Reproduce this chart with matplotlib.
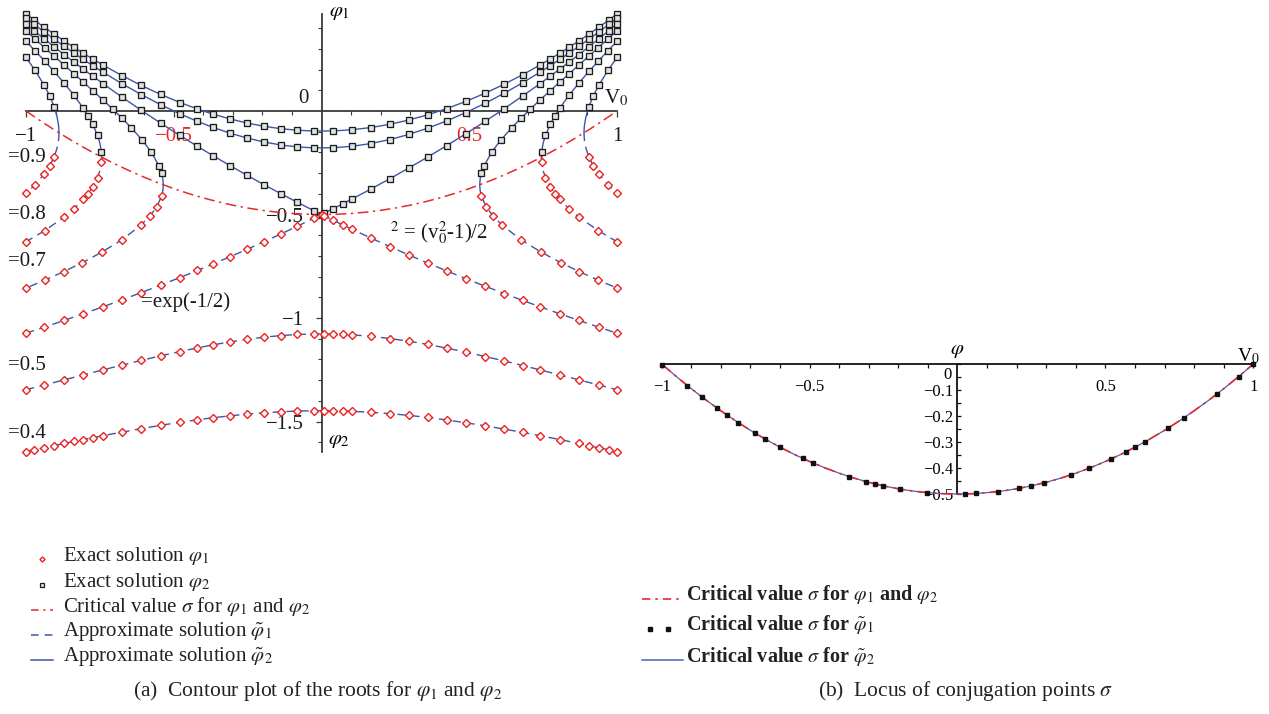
import matplotlib
matplotlib.use("Agg")
import matplotlib.pyplot as plt
from matplotlib.lines import Line2D
from matplotlib.ticker import FixedLocator

plt.rcParams["font.family"] = ["Liberation Serif", "DejaVu Serif"]
plt.rcParams["mathtext.fontset"] = "stix"

W, H, DPI = 1269, 714, 100
BLUE = "#3a57a8"
RED = "#e8282e"
AXIS = "#3a3a3a"

# ---------------------------------------------------------------------------
# v0 sample positions of the plotted roots
V_L = [-1.0, -0.972, -0.938, -0.905, -0.871, -0.838, -0.806, -0.774, -0.740, -0.675, -0.610,
       -0.544, -0.479, -0.420, -0.366, -0.310, -0.253, -0.195, -0.138, -0.082, -0.025]
V_L_SPARSE = [-1.0, -0.938, -0.871, -0.806, -0.740, -0.675, -0.610, -0.544, -0.479, -0.420,
              -0.366, -0.310, -0.253, -0.195, -0.138, -0.082, -0.025]
V_R = [0.040, 0.103, 0.166, 0.232, 0.295, 0.360, 0.424, 0.489, 0.554, 0.618, 0.681,
       0.740, 0.774, 0.806, 0.838, 0.871, 0.905, 0.938, 0.972, 1.0]
V_R_DENSE = [0.008, 0.040, 0.072, 0.103, 0.166, 0.232, 0.295, 0.360, 0.424, 0.489, 0.554,
             0.618, 0.681, 0.740, 0.774, 0.806, 0.838, 0.871, 0.905, 0.938, 0.972, 1.0]
V_R_04LO = [0.008, 0.040, 0.072, 0.103, 0.166, 0.232, 0.295, 0.360, 0.424, 0.489, 0.554,
            0.618, 0.681, 0.740, 0.806, 0.871, 0.905, 0.938, 0.972, 1.0]
V_R_SPARSE = [0.008, 0.040, 0.072, 0.103, 0.166, 0.232, 0.295, 0.360, 0.424, 0.489, 0.554,
              0.618, 0.681, 0.740, 0.806, 0.871, 0.938, 1.0]

# level 0.4
P04_UP_L = [0.4687, 0.4392, 0.4043, 0.3715, 0.3387, 0.3079, 0.2790, 0.2511, 0.2225, 0.1710, 0.1236,
            0.0798, 0.0410, 0.0098, -0.0156, -0.0383, -0.0578, -0.0737, -0.0854, -0.0930, -0.0968]
P04_UP_R = [-0.0962, -0.0906, -0.0801, -0.0641, -0.0438, -0.0182, 0.0117, 0.0467, 0.0861, 0.1292,
            0.1756, 0.2225, 0.2511, 0.2790, 0.3079, 0.3387, 0.3715, 0.4043, 0.4392, 0.4687]
P04_LO_L = [-1.6460, -1.6363, -1.6271, -1.6170, -1.6060, -1.5961, -1.5871, -1.5782, -1.5686, -1.5512,
            -1.5344, -1.5184, -1.5038, -1.4918, -1.4815, -1.4727, -1.4645, -1.4581, -1.4531, -1.4496,
            -1.4481]
P04_LO_R = [-1.4479, -1.4484, -1.4494, -1.4509, -1.4554, -1.4621, -1.4703, -1.4805, -1.4926, -1.5061,
            -1.5209, -1.5365, -1.5527, -1.5686, -1.5871, -1.6060, -1.6170, -1.6271, -1.6363, -1.6460]

# level 0.5
P05_UP_L = [0.4491, 0.4183, 0.3816, 0.3471, 0.3124, 0.2797, 0.2488, 0.2189, 0.1880, 0.1318, 0.0794,
            0.0303, -0.0139, -0.0500, -0.0797, -0.1068, -0.1302, -0.1496, -0.1641, -0.1735, -0.1782]
P05_UP_R = [-0.1775, -0.1706, -0.1575, -0.1378, -0.1134, -0.0827, -0.0477, -0.0074, 0.0375, 0.0856,
            0.1368, 0.1880, 0.2189, 0.2488, 0.2797, 0.3124, 0.3471, 0.3816, 0.4183, 0.4491]
P05_LO_L = [-1.3464, -1.3236, -1.2988, -1.2746, -1.2508, -1.2274, -1.2048, -1.1828, -1.1620, -1.1444,
            -1.1294, -1.1156, -1.1032, -1.0928, -1.0848, -1.0796, -1.0770]
P05_LO_R = [-1.0768, -1.0774, -1.0790, -1.0813, -1.0883, -1.0992, -1.1121, -1.1279, -1.1455, -1.1651,
            -1.1860, -1.2074, -1.2296, -1.2508, -1.2746, -1.2988, -1.3236, -1.3464]

# level exp(-1/2): both branches meet at the crossing point
V_X, P_X = 0.0, -0.5
PE_UP_L = [0.4207, 0.3877, 0.3482, 0.3107, 0.2727, 0.2364, 0.2020, 0.1681, 0.1327, 0.0669, 0.0033,
           -0.0590, -0.1183, -0.1704, -0.2168, -0.2635, -0.3098, -0.3555, -0.3992, -0.4409, -0.4822]
PE_UP_R = [-0.4943, -0.4715, -0.4482, -0.4254, -0.3778, -0.3265, -0.2758, -0.2219, -0.1670, -0.1094,
           -0.0498, 0.0110, 0.0729, 0.1327, 0.1681, 0.2020, 0.2364, 0.2727, 0.3107, 0.3482, 0.3877,
           0.4207]
PE_LO_L = [-1.0735, -1.0441, -1.0117, -0.9794, -0.9461, -0.9121, -0.8773, -0.8410, -0.8044, -0.7703,
           -0.7383, -0.7043, -0.6688, -0.6318, -0.5945, -0.5569, -0.5176]
PE_LO_R = [-0.5056, -0.5280, -0.5500, -0.5711, -0.6130, -0.6555, -0.6951, -0.7347, -0.7727, -0.8101,
           -0.8466, -0.8817, -0.9152, -0.9461, -0.9794, -1.0117, -1.0441, -1.0735]

# closed levels 0.7, 0.8, 0.9 (|v0| samples, same on both sides)
V07_UP = [0.541, 0.550, 0.577, 0.606, 0.644, 0.676, 0.706, 0.740, 0.774, 0.806, 0.838, 0.871,
          0.905, 0.937, 0.970, 1.0]
P07_UP = [-0.3008, -0.2649, -0.1964, -0.1417, -0.0804, -0.0335, 0.0082, 0.0538, 0.0982, 0.1394,
          0.1803, 0.2222, 0.2654, 0.3061, 0.3484, 0.3870]
V07_LO = [0.541, 0.557, 0.580, 0.612, 0.676, 0.744, 0.810, 0.872, 0.937, 1.0]
P07_LO = [-0.4105, -0.4616, -0.5065, -0.5525, -0.6227, -0.6824, -0.7328, -0.7757, -0.8174, -0.8553]
V07_UP_BEND, P07_UP_BEND = [0.537], [-0.3271]
V07_LO_BEND, P07_LO_BEND = [0.537], [-0.3857]
V07_TURN, P07_TURN = 0.5354, -0.3567

V08_UP = [0.745, 0.758, 0.774, 0.790, 0.806, 0.838, 0.871, 0.905, 0.937, 0.970, 1.0]
P08_UP = [-0.1973, -0.1174, -0.0646, -0.0230, 0.0130, 0.0765, 0.1350, 0.1912, 0.2416, 0.2920, 0.3368]
V08_LO = [0.745, 0.758, 0.774, 0.790, 0.806, 0.838, 0.871, 0.937, 1.0]
P08_LO = [-0.2485, -0.3219, -0.3665, -0.3997, -0.4272, -0.4730, -0.5124, -0.5783, -0.6316]
V08_UP_BEND, P08_UP_BEND = [0.750], [-0.1554]
V08_LO_BEND, P08_LO_BEND = [0.750], [-0.2880]
V08_TURN, P08_TURN = 0.7441, -0.2231

V09_UP = [0.905, 0.920, 0.938, 0.970, 1.0]
P09_UP = [0.0217, 0.0737, 0.1237, 0.1977, 0.2585]
V09_LO = [0.905, 0.920, 0.938, 0.970, 1.0]
P09_LO = [-0.2225, -0.2654, -0.3041, -0.3576, -0.3983]
V09_UP_BEND, P09_UP_BEND = [0.889, 0.890, 0.895], [-0.0824, -0.0674, -0.0270]
V09_LO_BEND, P09_LO_BEND = [0.889, 0.890, 0.895], [-0.1280, -0.1424, -0.1798]
V09_TURN, P09_TURN = 0.8884, -0.1054

# critical value sigma(v0)
V_SIGMA = [-1.0, -0.95, -0.9, -0.85, -0.8, -0.75, -0.7, -0.65, -0.6, -0.55, -0.5, -0.45, -0.4, -0.35,
           -0.3, -0.25, -0.2, -0.15, -0.1, -0.05, 0.0, 0.05, 0.1, 0.15, 0.2, 0.25, 0.3, 0.35, 0.4,
           0.45, 0.5, 0.55, 0.6, 0.65, 0.7, 0.75, 0.8, 0.85, 0.9, 0.95, 1.0]
P_SIGMA = [0.0, -0.04875, -0.095, -0.13875, -0.18, -0.21875, -0.255, -0.28875, -0.32, -0.34875,
           -0.375, -0.39875, -0.42, -0.43875, -0.455, -0.46875, -0.48, -0.48875, -0.495, -0.49875,
           -0.5, -0.49875, -0.495, -0.48875, -0.48, -0.46875, -0.455, -0.43875, -0.42, -0.39875,
           -0.375, -0.34875, -0.32, -0.28875, -0.255, -0.21875, -0.18, -0.13875, -0.095, -0.04875,
           0.0]

# conjugation points of the approximate solution (panel b)
V_CONJ = [-0.998, -0.913, -0.863, -0.814, -0.780, -0.741, -0.685, -0.651, -0.601, -0.523, -0.488,
          -0.367, -0.309, -0.280, -0.251, -0.195, -0.102, 0.027, 0.064, 0.136, 0.207, 0.249, 0.294,
          0.384, 0.446, 0.519, 0.568, 0.599, 0.635, 0.710, 0.765, 0.877, 0.950, 1.0]
P_CONJ = [-0.0020, -0.0832, -0.1276, -0.1687, -0.1958, -0.2255, -0.2654, -0.2881, -0.3194, -0.3632,
          -0.3809, -0.4327, -0.4523, -0.4608, -0.4685, -0.4810, -0.4948, -0.4996, -0.4980, -0.4908,
          -0.4786, -0.4690, -0.4568, -0.4263, -0.4005, -0.3653, -0.3387, -0.3206, -0.2984, -0.2480,
          -0.2074, -0.1154, -0.0488, 0.0]

# ---------------------------------------------------------------------------
fig = plt.figure(figsize=(W / DPI, H / DPI), dpi=DPI)
fig.patch.set_facecolor("white")


def fpos(x, y):
    """pixel position (from top-left) -> figure fraction"""
    return x / W, 1 - y / H


def ftext(x, y, s, **kw):
    fx, fy = fpos(x, y)
    fig.text(fx, fy, s, **kw)


SQ = dict(ls="none", marker="s", ms=4.2, mfc="#e2e2e2", mec="#1c1c1c", mew=0.95, zorder=5)
DI = dict(ls="none", marker="D", ms=4.0, mfc="white", mec="#ee2020", mew=1.0, zorder=5)
SOLID = dict(color=BLUE, lw=1.0, zorder=3)
DASHED = dict(color=BLUE, lw=1.0, dashes=(6, 4), zorder=3)

# ------------------------------ panel (a) ----------------------------------
ax = fig.add_axes([0.008846, 0.357479, 0.489007, 0.640714])
ax.set_xlim(-1.05, 1.05)
ax.set_ylim(-1.68, 0.53)
ax.patch.set_visible(False)

# critical curve
ax.plot(V_SIGMA, P_SIGMA, color=RED, lw=1.1, dashes=(7, 3, 1.5, 3), zorder=4)

# open levels
for vx, py, style, mk in [
    (V_L + V_R, P04_UP_L + P04_UP_R, SOLID, SQ),
    (V_L + V_R_04LO, P04_LO_L + P04_LO_R, DASHED, DI),
    (V_L + V_R, P05_UP_L + P05_UP_R, SOLID, SQ),
    (V_L_SPARSE + V_R_SPARSE, P05_LO_L + P05_LO_R, DASHED, DI),
    (V_L + [V_X] + V_R_DENSE, PE_UP_L + [P_X] + PE_UP_R, SOLID, SQ),
    (V_L_SPARSE + [V_X] + V_R_SPARSE, PE_LO_L + [P_X] + PE_LO_R, DASHED, DI),
]:
    ax.plot(vx, py, **style)
    ax.plot(vx, py, **mk)

# closed levels: upper branch solid, lower branch dashed, joined at the turning point
for (vu, pu, vub, pub, vt, pt, vl, pl, vlb, plb) in [
    (V07_UP, P07_UP, V07_UP_BEND, P07_UP_BEND, V07_TURN, P07_TURN, V07_LO, P07_LO, V07_LO_BEND, P07_LO_BEND),
    (V08_UP, P08_UP, V08_UP_BEND, P08_UP_BEND, V08_TURN, P08_TURN, V08_LO, P08_LO, V08_LO_BEND, P08_LO_BEND),
    (V09_UP, P09_UP, V09_UP_BEND, P09_UP_BEND, V09_TURN, P09_TURN, V09_LO, P09_LO, V09_LO_BEND, P09_LO_BEND),
]:
    up = sorted(zip(vu + vub, pu + pub))
    lo = sorted(zip(vl + vlb, pl + plb))
    for sgn in (1, -1):
        ux = [sgn * vt] + [sgn * a for a, _ in up]
        uy = [pt] + [b for _, b in up]
        lx = [sgn * vt] + [sgn * a for a, _ in lo]
        ly = [pt] + [b for _, b in lo]
        ax.plot(ux, uy, **SOLID)
        ax.plot(lx, ly, **DASHED)
        ax.plot([sgn * a for a in vu], pu, **SQ)
        ax.plot([sgn * a for a in vl], pl, **DI)

for s in ("top", "right"):
    ax.spines[s].set_visible(False)
ax.spines["left"].set_position(("data", 0))
ax.spines["bottom"].set_position(("data", 0))
ax.spines["left"].set_bounds(-1.646, 0.4687)
ax.spines["bottom"].set_bounds(-1, 1)
for s in ("left", "bottom"):
    ax.spines[s].set_color(AXIS)
    ax.spines[s].set_linewidth(1.3)
    ax.spines[s].set_zorder(2)

ax.xaxis.set_major_locator(FixedLocator([-1, -0.5, 0.5, 1]))
ax.set_xticklabels(["\u22121", "\u22120.5", "0.5", "1"])
ax.xaxis.set_minor_locator(FixedLocator([-0.9, -0.8, -0.7, -0.6, -0.4, -0.3, -0.2, -0.1,
                                         0.1, 0.2, 0.3, 0.4, 0.6, 0.7, 0.8, 0.9]))
ax.yaxis.set_major_locator(FixedLocator([-1.5, -1.0, -0.5]))
ax.set_yticklabels(["\u22121.5", "\u22121", "\u22120.5"])
ax.yaxis.set_minor_locator(FixedLocator([-1.6, -1.4, -1.3, -1.2, -1.1, -0.9, -0.8, -0.7, -0.6,
                                         -0.4, -0.3, -0.2, -0.1, 0.1, 0.2, 0.3, 0.4]))
ax.tick_params(axis="both", which="major", direction="out", length=4.5, width=0.9,
               color=AXIS, labelsize=15, labelcolor="#1a1a1a")
ax.tick_params(axis="both", which="minor", direction="out", length=2.8, width=0.8, color=AXIS)
ax.tick_params(axis="x", which="major", pad=7)
ax.tick_params(axis="y", which="major", pad=8)
xl = ax.get_xticklabels()
xl[1].set_color(RED)
xl[2].set_color(RED)

ftext(303, 98.5, "0", fontsize=15, ha="center", va="center", color="#1a1a1a")
ftext(616, 98, r"V$_0$", fontsize=15, ha="center", va="center", color="#1a1a1a")
ftext(339, 12, r"$\varphi_1$", fontsize=15, ha="center", va="center")
ftext(339, 441, r"$\varphi_2$", fontsize=15, ha="center", va="center")
for y, s in [(157.5, "=0.9"), (214.5, "=0.8"), (261.5, "=0.7"), (365.5, "=0.5"), (434, "=0.4")]:
    ftext(8, y, s, fontsize=15, ha="left", va="center", color="#1a1a1a")
ftext(141, 302, "=exp(-1/2)", fontsize=15, ha="left", va="center", color="#1a1a1a")
ftext(390, 233, r"$^{2}$ = (v$_0^2$-1)/2", fontsize=15, ha="left", va="center", color="#1a1a1a")

# legend (a)
rows_a = [
    (559, dict(ls="none", marker="D", ms=2.6, mfc="white", mec="#ee2020", mew=1.0),
     r"Exact solution $\varphi_1$"),
    (585, dict(ls="none", marker="s", ms=2.8, mfc="#e2e2e2", mec="#1c1c1c", mew=0.9),
     r"Exact solution $\varphi_2$"),
    (610, dict(color=RED, lw=1.1, dashes=(5, 3, 1.5, 3)),
     r"Critical value $\sigma$ for $\varphi_1$ and $\varphi_2$"),
    (635, dict(color=BLUE, lw=1.1, dashes=(5, 4)), r"Approximate solution $\tilde{\varphi}_1$"),
    (660, dict(color=BLUE, lw=1.1), r"Approximate solution $\tilde{\varphi}_2$"),
]
for y, sty, lab in rows_a:
    if sty.get("marker"):
        fx, fy = fpos(42, y)
        fig.add_artist(Line2D([fx], [fy], transform=fig.transFigure, **sty))
    else:
        x0, fy = fpos(31, y)
        x1, _ = fpos(53, y)
        fig.add_artist(Line2D([x0, x1], [fy, fy], transform=fig.transFigure, **sty))
    ftext(63, y - 3, lab, fontsize=15, ha="left", va="center", color="#222222")

ftext(318, 691, r"(a)  Contour plot of the roots for $\varphi_1$ and $\varphi_2$",
      fontsize=15.5, ha="center", va="center", color="#222222")

# ------------------------------ panel (b) ----------------------------------
bx = fig.add_axes([0.509779, 0.286275, 0.489504, 0.218487])
bx.set_xlim(-1.05, 1.05)
bx.set_ylim(-0.56, 0.04)
bx.patch.set_visible(False)

bx.plot(V_SIGMA, P_SIGMA, color="#4a64b8", lw=0.9, zorder=3)
bx.plot(V_SIGMA, P_SIGMA, color=RED, lw=1.2, dashes=(7, 3, 1.5, 3), zorder=4)
bx.plot(V_CONJ, P_CONJ, ls="none", marker="s", ms=3.4, color="#111111", zorder=5)

for s in ("top", "right"):
    bx.spines[s].set_visible(False)
bx.spines["left"].set_position(("data", 0))
bx.spines["bottom"].set_position(("data", 0))
bx.spines["left"].set_bounds(-0.5, 0)
bx.spines["bottom"].set_bounds(-1, 1)
for s in ("left", "bottom"):
    bx.spines[s].set_color("#111111")
    bx.spines[s].set_linewidth(1.3)

bx.xaxis.set_major_locator(FixedLocator([-1, -0.5, 0.5, 1]))
bx.set_xticklabels(["\u22121", "\u22120.5", "0.5", "1"])
bx.xaxis.set_minor_locator(FixedLocator([-0.9, -0.8, -0.7, -0.6, -0.4, -0.3, -0.2, -0.1,
                                         0.1, 0.2, 0.3, 0.4, 0.6, 0.7, 0.8, 0.9]))
bx.yaxis.set_major_locator(FixedLocator([-0.5, -0.4, -0.3, -0.2, -0.1, 0.0]))
bx.set_yticklabels(["\u22120.5", "\u22120.4", "\u22120.3", "\u22120.2", "\u22120.1", ""])
bx.yaxis.set_minor_locator(FixedLocator([-0.45, -0.35, -0.25, -0.15, -0.05]))
bx.tick_params(axis="x", which="both", direction="out", length=2.8, width=0.9, color="#111111",
               labelsize=12, pad=8)
bx.tick_params(axis="y", which="both", direction="in", length=2.8, width=0.9, color="#111111",
               labelsize=12, pad=3)

ftext(948, 375, "0", fontsize=12, ha="center", va="center")
ftext(957, 350, r"$\varphi$", fontsize=15, ha="center", va="center")
ftext(1248, 356, r"V$_0$", fontsize=14, ha="center", va="center")

# legend (b)
x0, fy = fpos(642, 599)
x1, _ = fpos(680, 599)
fig.add_artist(Line2D([x0, x1], [fy, fy], transform=fig.transFigure, color=RED, lw=1.2,
                      dashes=(5, 3, 1.5, 3)))
xa, fy = fpos(650, 629)
xb, _ = fpos(668, 629)
fig.add_artist(Line2D([xa, xb], [fy, fy], transform=fig.transFigure, ls="none", marker="s",
                      ms=3.4, color="#111111"))
x0, fy = fpos(642, 660)
x1, _ = fpos(683, 660)
fig.add_artist(Line2D([x0, x1], [fy, fy], transform=fig.transFigure, color="#4a64b8", lw=1.1))

for y, lab in [(595, r"Critical value $\sigma$ for $\varphi_1$ and $\varphi_2$"),
               (625, r"Critical value $\sigma$ for $\tilde{\varphi}_1$"),
               (656, r"Critical value $\sigma$ for $\tilde{\varphi}_2$")]:
    ftext(686, y, lab, fontsize=14.5, fontweight="bold", ha="left", va="center", color="#222222")

ftext(966, 691, r"(b)  Locus of conjugation points $\sigma$", fontsize=15.5, ha="center",
      va="center", color="#222222")

fig.savefig("out.png", dpi=DPI, facecolor="white")
